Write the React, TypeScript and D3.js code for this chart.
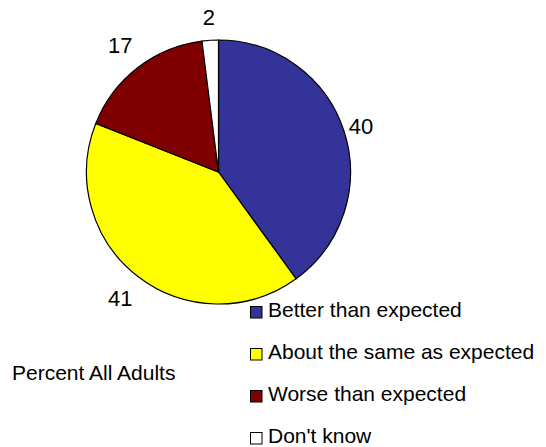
import React from "react";
import * as d3 from "d3";

const categories = ["Better than expected", "About the same as expected", "Worse than expected", "Don't know"];
const values = [40, 41, 17, 2];
const colors = ["#333399", "#FFFF00", "#800000", "#FFFFFF"];
const title = "Percent All Adults";

const W = 546;
const H = 447;
const cx = 218.5;
const cy = 172;
const R = 132;
const FONT = "'Liberation Sans', Arial, sans-serif";

export default function App() {
  const pie = d3.pie<number>().sort(null).value((d) => d);
  const arcs = pie(values);
  const arc = d3.arc<d3.PieArcDatum<number>>().innerRadius(0).outerRadius(R);
  const labelFs = 22;
  const legendFs = 21;
  const R0 = 116.5;
  const padX = 10.5;
  const halfY = 37.6;

  const legendY = d3.scalePoint<string>().domain(categories).range([317, 443]);

  return (
    <svg width={W} height={H} style={{ position: "absolute", left: 0, top: 0, background: "#fff" }}>
      <g transform={`translate(${cx},${cy})`}>
        {arcs.map((a, i) => (
          <path key={i} d={arc(a) || ""} fill={colors[i]} stroke="#000" strokeWidth={1.2} />
        ))}
        {arcs.map((a, i) => {
          const mid = (a.startAngle + a.endAngle) / 2;
          const dx = Math.sin(mid);
          const dy = -Math.cos(mid);
          const txt = String(values[i]);
          const w = txt.length * 0.556 * labelFs;
          const d = R0 + (w / 2 + padX) * Math.abs(dx) + halfY * Math.abs(dy);
          const x = dx * d;
          const y = dy * d;
          return (
            <text
              key={"l" + i}
              x={x}
              y={y + (0.716 * labelFs) / 2}
              textAnchor="middle"
              fontFamily={FONT}
              fontSize={labelFs}
              fill="#000"
            >
              {txt}
            </text>
          );
        })}
      </g>
      <text x={12} y={380} fontFamily={FONT} fontSize={legendFs} fill="#000">
        {title}
      </text>
      {categories.map((c, i) => {
        const y = legendY(c) as number;
        return (
          <g key={c}>
            <rect x={250.5} y={y - 10.5} width={11.5} height={11.5} fill={colors[i]} stroke="#000" strokeWidth={1} />
            <text x={268} y={y} fontFamily={FONT} fontSize={legendFs} fill="#000">
              {c}
            </text>
          </g>
        );
      })}
    </svg>
  );
}
